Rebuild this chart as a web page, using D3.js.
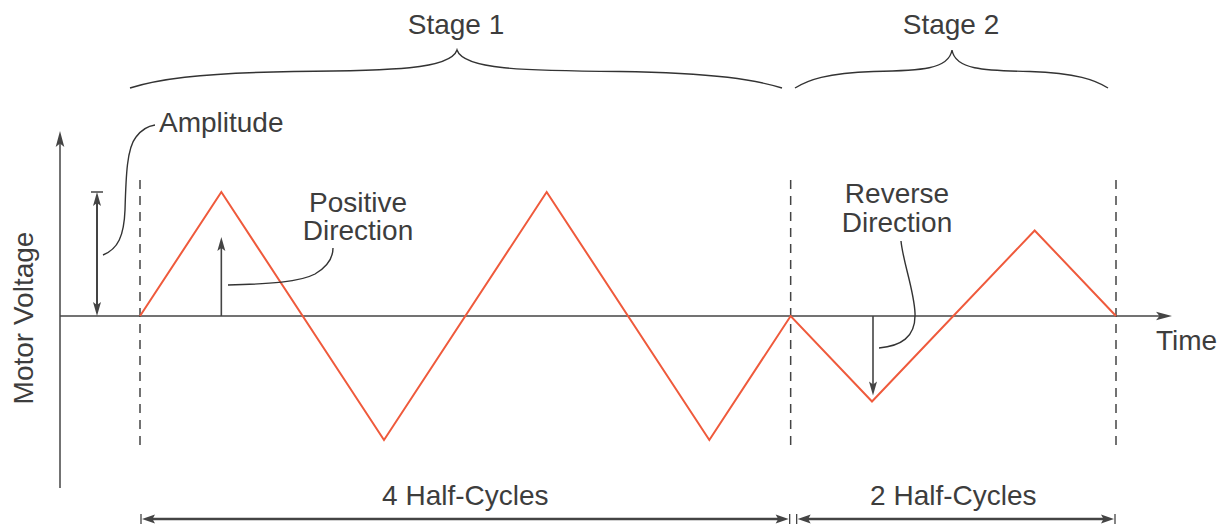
<!DOCTYPE html>
<html>
<head>
<meta charset="utf-8">
<script src="https://cdn.jsdelivr.net/npm/d3@7/dist/d3.min.js"></script>
<style>
  html, body { margin: 0; padding: 0; background: #fff; }
  svg { display: block; }
  text { font-family: "Liberation Sans", Arial, Helvetica, sans-serif; fill: #3d3d3d; }
</style>
</head>
<body>
<svg id="chart" width="1228" height="525"></svg>
<script>
// ---- data (time in half-cycle units, voltage relative to stage-1 amplitude) ----
const times = [0, 0.5, 1.5, 2.5, 3.5, 4, 4.5, 5.5, 6];
const voltages = [0, 1, -1, 1, -1, 0, -0.69, 0.69, 0];
const stageNames = ["Stage 1", "Stage 2"];
const stageStarts = [0, 4];
const stageEnds = [4, 6];
const spanLabels = ["4 Half-Cycles", "2 Half-Cycles"];
const boundaryTimes = [0, 4, 6];
const axisLabels = { x: "Time", y: "Motor Voltage" };

const svg = d3.select("#chart");
const W = 1228, H = 525;
const ink = "#444";
const red = "#ef5a3c";

const x = d3.scaleLinear().domain([0, 6]).range([140, 1116]);
const y = d3.scaleLinear().domain([-1, 1]).range([440, 192]);

// arrowhead helper: tip at (tx,ty), pointing in direction angle (radians)
function arrowHead(tx, ty, ang, len = 14, hw = 4.2, notch = 3) {
  const c = Math.cos(ang), s = Math.sin(ang);
  const bx = tx - c * len, by = ty - s * len;
  const nx = -s, ny = c;
  const p1 = [bx + nx * hw, by + ny * hw];
  const p2 = [tx - c * (len - notch), ty - s * (len - notch)];
  const p3 = [bx - nx * hw, by - ny * hw];
  return `M${tx},${ty}L${p1[0]},${p1[1]}L${p2[0]},${p2[1]}L${p3[0]},${p3[1]}Z`;
}

// ---- axes ----
const axX0 = 60, axY = y(0);
const xAxisEnd = 1172;
const yAxisTop = 131, yAxisBottom = 488;
svg.append("line").attr("x1", axX0).attr("x2", xAxisEnd - 6).attr("y1", axY).attr("y2", axY)
  .attr("stroke", ink).attr("stroke-width", 1.5);
svg.append("path").attr("d", arrowHead(xAxisEnd, axY, 0, 16, 4.3, 3.5)).attr("fill", ink);
svg.append("line").attr("x1", axX0).attr("x2", axX0).attr("y1", yAxisBottom).attr("y2", yAxisTop + 6)
  .attr("stroke", ink).attr("stroke-width", 1.5);
svg.append("path").attr("d", arrowHead(axX0, yAxisTop, -Math.PI / 2, 16, 4.3, 3.5)).attr("fill", ink);

svg.append("text").attr("x", 1156).attr("y", 350).attr("font-size", 28).text(axisLabels.x);
svg.append("text").attr("transform", "translate(33,318) rotate(-90)")
  .attr("text-anchor", "middle").attr("font-size", 28).text(axisLabels.y);

// ---- dashed stage boundaries ----
svg.selectAll("line.bound").data(boundaryTimes).enter().append("line")
  .attr("class", "bound")
  .attr("x1", d => x(d)).attr("x2", d => x(d))
  .attr("y1", 180).attr("y2", 450)
  .attr("stroke", ink).attr("stroke-width", 1.5)
  .attr("stroke-dasharray", "9,7");

// ---- triangle wave ----
const pts = times.map((t, i) => [t, voltages[i]]);
svg.append("path")
  .attr("d", d3.line().x(d => x(d[0])).y(d => y(d[1]))(pts))
  .attr("fill", "none").attr("stroke", red).attr("stroke-width", 2)
  .attr("stroke-linejoin", "miter");

// ---- amplitude dimension ----
const ampX = 97;
svg.append("line").attr("x1", ampX).attr("x2", ampX).attr("y1", y(1) + 10).attr("y2", y(0) - 10)
  .attr("stroke", ink).attr("stroke-width", 2);
svg.append("path").attr("d", arrowHead(ampX, y(1), -Math.PI / 2, 14, 4, 3)).attr("fill", ink);
svg.append("path").attr("d", arrowHead(ampX, y(0), Math.PI / 2, 14, 4, 3)).attr("fill", ink);
svg.append("line").attr("x1", ampX - 6).attr("x2", ampX + 6).attr("y1", y(1)).attr("y2", y(1))
  .attr("stroke", ink).attr("stroke-width", 1.5);
svg.append("path")
  .attr("d", "M103,255 C118,249 124,236 125,210 C126,175 127,148 136,137 C142,129 148,126 155,125")
  .attr("fill", "none").attr("stroke", "#333").attr("stroke-width", 1.4);
svg.append("text").attr("x", 159).attr("y", 132).attr("font-size", 28).text("Amplitude");

// ---- positive direction arrow ----
const posX = x(times[1]);
svg.append("line").attr("x1", posX).attr("x2", posX).attr("y1", y(0)).attr("y2", 246)
  .attr("stroke", ink).attr("stroke-width", 1.6);
svg.append("path").attr("d", arrowHead(posX, 237, -Math.PI / 2, 14, 4, 3)).attr("fill", ink);
svg.append("path")
  .attr("d", "M228,285 C270,284 300,282 315,274 C327,267 333,258 333,248")
  .attr("fill", "none").attr("stroke", "#333").attr("stroke-width", 1.4);
svg.append("text").attr("x", 358).attr("y", 212).attr("text-anchor", "middle").attr("font-size", 28).text("Positive");
svg.append("text").attr("x", 358).attr("y", 240).attr("text-anchor", "middle").attr("font-size", 28).text("Direction");

// ---- reverse direction arrow ----
const revX = x(times[6]) + 1;
svg.append("line").attr("x1", revX).attr("x2", revX).attr("y1", y(0)).attr("y2", y(voltages[6]) - 12)
  .attr("stroke", ink).attr("stroke-width", 1.6);
svg.append("path").attr("d", arrowHead(revX, y(voltages[6]) - 6, Math.PI / 2, 14, 4, 3)).attr("fill", ink);
svg.append("path")
  .attr("d", "M901,241 C903,262 914,290 915,313 C916,338 900,346 879,348")
  .attr("fill", "none").attr("stroke", "#333").attr("stroke-width", 1.4);
svg.append("text").attr("x", 897).attr("y", 203).attr("text-anchor", "middle").attr("font-size", 28).text("Reverse");
svg.append("text").attr("x", 897).attr("y", 232).attr("text-anchor", "middle").attr("font-size", 28).text("Direction");

// ---- stage braces ----
const braceLayout = [
  { x1: 130, xm: 457, x2: 782 },
  { x1: 795, xm: 952, x2: 1108 }
];
function bracePath(b, yEnd = 88, yMid = 71.5, yTip = 50) {
  const h1 = b.xm - b.x1, h2 = b.x2 - b.xm;
  const L = `M${b.x1},${yEnd} C${b.x1 + 0.08 * h1},${yEnd - 8} ${b.x1 + 0.2 * h1},${yMid + 1.5} ${b.x1 + 0.5 * h1},${yMid}` +
    ` C${b.xm - 0.2 * h1},${yMid - 0.8} ${b.xm - 0.02 * h1},${yMid - 2} ${b.xm},${yTip}`;
  const R = ` C${b.xm + 0.02 * h2},${yMid - 2} ${b.xm + 0.2 * h2},${yMid - 0.8} ${b.xm + 0.5 * h2},${yMid}` +
    ` C${b.x2 - 0.2 * h2},${yMid + 1.5} ${b.x2 - 0.08 * h2},${yEnd - 8} ${b.x2},${yEnd}`;
  return L + R;
}
svg.selectAll("path.brace").data(braceLayout).enter().append("path")
  .attr("class", "brace").attr("d", d => bracePath(d))
  .attr("fill", "none").attr("stroke", "#333").attr("stroke-width", 1.4);
svg.selectAll("text.stage").data(stageNames).enter().append("text")
  .attr("class", "stage")
  .attr("x", (d, i) => braceLayout[i].xm - 1)
  .attr("y", 34).attr("text-anchor", "middle").attr("font-size", 28)
  .text(d => d);

// ---- half-cycle spans ----
const spanY = 519;
const spans = stageNames.map((_, i) => ({
  a: x(stageStarts[i]) + (i === 0 ? 1 : 6),
  b: x(stageEnds[i]) - (i === 0 ? 1 : 1),
  label: spanLabels[i]
}));
const sg = svg.selectAll("g.span").data(spans).enter().append("g").attr("class", "span");
sg.append("line").attr("x1", d => d.a + 8).attr("x2", d => d.b - 8).attr("y1", spanY).attr("y2", spanY)
  .attr("stroke", ink).attr("stroke-width", 2.6);
sg.append("path").attr("d", d => arrowHead(d.a + 1, spanY, Math.PI, 13, 4.5, 2.5)).attr("fill", ink);
sg.append("path").attr("d", d => arrowHead(d.b - 1, spanY, 0, 13, 4.5, 2.5)).attr("fill", ink);
sg.append("line").attr("x1", d => d.a).attr("x2", d => d.a).attr("y1", spanY - 5).attr("y2", spanY + 5)
  .attr("stroke", ink).attr("stroke-width", 1.3);
sg.append("line").attr("x1", d => d.b).attr("x2", d => d.b).attr("y1", spanY - 5).attr("y2", spanY + 5)
  .attr("stroke", ink).attr("stroke-width", 1.3);
sg.append("text").attr("x", d => (x(stageStarts[spans.indexOf(d)]) + x(stageEnds[spans.indexOf(d)])) / 2)
  .attr("y", 505).attr("text-anchor", "middle").attr("font-size", 28)
  .text(d => d.label);
</script>
</body>
</html>
